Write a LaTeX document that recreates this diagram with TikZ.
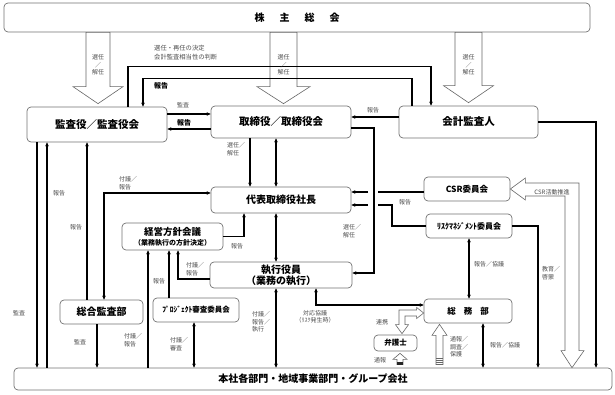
\documentclass[tikz,border=0pt]{standalone}
\usepackage{fontspec}
\setmainfont{Noto Sans CJK JP}
\usetikzlibrary{arrows.meta,calc}
\newcommand{\fatarrow}[5]{\draw[hollow]($(#1)+(-#3,0)$)--($(#1)+(#3,0)$)--($(#2)+(#3,#5)$)--($(#2)+(#4,#5)$)--(#2)--($(#2)+(-#4,#5)$)--($(#2)+(-#3,#5)$)--cycle;}

\begin{document}
\begin{tikzpicture}[x=1pt,y=-1pt,
  box/.style={rectangle,draw=black!55,fill=white,rounded corners=4pt,line width=0.7pt,align=center,inner sep=1pt,font=\fontsize{10}{12}\selectfont\bfseries},
  rel/.style={-{Stealth[length=4pt,width=3.6pt]},line width=1.1pt},
  drel/.style={{Stealth[length=4pt,width=3.6pt]}-{Stealth[length=4pt,width=3.6pt]},line width=1.1pt},
  hollow/.style={draw=black!60,fill=white,line width=0.6pt,line join=miter},
  lbl/.style={font=\fontsize{6}{7.5}\selectfont,text=black!70,inner sep=0pt,align=left},
  lblb/.style={font=\fontsize{7}{8}\selectfont\bfseries,inner sep=0pt}
]
\useasboundingbox(0,0)rectangle(615,395);
\node[box,minimum width=586,minimum height=29](soukai) at (297,17.5) {株\hspace{15pt}主\hspace{15pt}総\hspace{15pt}会};
\node[box,minimum width=140,minimum height=35,font=\fontsize{10.5}{12}\selectfont\bfseries](kansa) at (97,124.5) {監査役／監査役会};
\node[box,minimum width=140,minimum height=32,font=\fontsize{10.5}{12}\selectfont\bfseries](tori) at (281,122) {取締役／取締役会};
\node[box,minimum width=139,minimum height=32,font=\fontsize{10.5}{12}\selectfont\bfseries](kaikei) at (468.5,122) {会計監査人};
\node[box,minimum width=140,minimum height=26](daihyo) at (281,200) {代表取締役社長};
\node[box,minimum width=101,minimum height=27,font=\fontsize{9.5}{11}\selectfont\bfseries](keiei) at (172.5,236.5) {経営方針会議\\[-1pt]{\fontsize{7}{8}\selectfont （業務執行の方針決定）}};
\node[box,minimum width=142,minimum height=26](shikko) at (281,275) {執行役員\\[-1pt]（業務の執行）};
\node[box,minimum width=86,minimum height=24,font=\fontsize{8.5}{10}\selectfont\bfseries](csr) at (467,189) {CSR委員会};
\node[box,minimum width=86,minimum height=24,font=\fontsize{8}{10}\selectfont\bfseries](risk) at (469,226) {ﾘｽｸﾏﾈｼﾞﾒﾝﾄ委員会};
\node[box,minimum width=83,minimum height=24](sogo) at (101.5,312) {総合監査部};
\node[box,minimum width=86,minimum height=24,font=\fontsize{7.5}{9}\selectfont\bfseries](pj) at (196,310) {ﾌﾟﾛｼﾞｪｸﾄ審査委員会};
\node[box,minimum width=88,minimum height=24,font=\fontsize{8.5}{10}\selectfont\bfseries](somu) at (468,311) {総\hspace{8pt}務\hspace{8pt}部};
\node[box,minimum width=43,minimum height=16,font=\fontsize{7.5}{9}\selectfont\bfseries](bengo) at (395.5,343) {弁護士};
\node[box,minimum width=598,minimum height=22](honsha) at (313,379) {本社各部門・地域事業部門・グループ会社};

\coordinate(a1s) at (soukai.south -| 98,0);
\coordinate(a1e) at ($(kansa.north -| 98,0)+(0,-3)$);
\coordinate(a2s) at (soukai.south -| 283.5,0);
\coordinate(a2e) at ($(tori.north -| 283.5,0)+(0,-2)$);
\coordinate(a3s) at (soukai.south -| 468.5,0);
\coordinate(a3e) at ($(kaikei.north -| 468.5,0)+(0,-3)$);
\coordinate(a4s) at ($(honsha.north -| 439.5,0)+(0,-3)$);
\coordinate(a4e) at ($(somu.south -| 439.5,0)+(0,1)$);
\coordinate(a5s) at ($(honsha.north -| 400,0)+(0,-3)$);
\coordinate(a5e) at ($(bengo.south -| 400,0)+(0,2)$);
\fatarrow{a1s}{a1e}{12}{25}{-17}
\fatarrow{a2s}{a2e}{13.5}{26.5}{-17}
\fatarrow{a3s}{a3e}{13.5}{25}{-17}
\fatarrow{a4s}{a4e}{3.5}{7.5}{11}
\fatarrow{a5s}{a5e}{3}{7}{6}
\foreach \yy in {358,360,362,364}{\draw[black!60,line width=0.5pt](436,\yy)--(443,\yy);}
\fill[black!85](397,362)rectangle(403,365);

\coordinate(c1) at (csr.east |- 0,189);
\coordinate(c2) at (honsha.north -| 572,0);
\draw[hollow](c1)--++(15,-11)--++(0,5)-|($(c2)+(7,-17)$)--++(5,0)--(c2)--++(-11,-17)--++(4,0)|-($(c1)+(15,7)$)--++(0,4)--cycle;
\coordinate(d1) at (somu.west |- 0,313);
\coordinate(d2) at ($(bengo.north -| 402,0)+(0,-1)$);
\draw[hollow](d1)--++(-7,-5.5)--++(0,2.5)-|($(d2)+(-3,-9)$)--++(-3.5,0)--(d2)--++(6.5,-9)--++(-3.5,0)|-($(d1)+(-7,3)$)--++(0,2.5)--cycle;

\draw[rel](kansa.north -| 128,0)--++(0,-40)-|(kaikei.north -| 431,0);
\draw[rel](kaikei.north -| 412,0)--++(0,-27)-|(kansa.north -| 143,0);
\draw[rel](kansa.east |- 0,114)--(tori.west |- 0,114);
\draw[rel](tori.west |- 0,129)--(kansa.east |- 0,129);
\draw[rel](kaikei.west |- 0,117)--(tori.east |- 0,117);
\draw[rel](tori.south -| 250,0)--(daihyo.north -| 250,0);
\draw[drel](tori.south -| 276,0)--(daihyo.north -| 276,0);
\draw[rel](tori.east |- 0,128)--(374,128)|-(shikko.east |- 0,273);
\draw[rel](csr.west |- 0,192)--(378,192)(368,192)--(daihyo.east |- 0,192);
\draw[rel](risk.west)-|(392,205)--(378,205)(368,205)--(daihyo.east |- 0,205);
\draw[rel](kaikei.east)-|(honsha.north -| 596,0);
\draw[rel](risk.east)-|(honsha.north -| 538,0);
\draw[drel](risk.south -| 469,0)--(somu.north -| 469,0);
\draw[drel](somu.south -| 483,0)--(honsha.north -| 483,0);
\draw[drel](shikko.south -| 316,0)|-(somu.west |- 0,305);
\draw[drel](daihyo.south -| 276,0)--(shikko.north -| 276,0);
\draw[drel](shikko.south -| 276,0)--(honsha.north -| 276,0);
\draw[drel](pj.south -| 194,0)--(honsha.north -| 194,0);
\draw[rel](pj.north -| 169,0)--(keiei.south -| 169,0);
\draw[rel](shikko.west |- 0,279)-|(keiei.south -| 178,0);
\draw[rel](honsha.north -| 148,0)--(keiei.south -| 148,0);
\draw[rel](keiei.east)-|(daihyo.south -| 244,0);
\draw[drel](sogo.north -| 104,0)|-(daihyo.west |- 0,193);
\draw[rel](sogo.north -| 87,0)--(kansa.south -| 87,0);
\draw[rel](honsha.north -| 47,0)--(kansa.south -| 47,0);
\draw[rel](kansa.south -| 37,0)--(honsha.north -| 37,0);
\draw[rel](sogo.south -| 97,0)--(honsha.north -| 97,0);

\node[lbl,align=center](l1) at (98,65) {選任\\／\\解任};
\node[lbl,align=center](l2) at (283.5,65) {選任\\／\\解任};
\node[lbl,align=center](l3) at (468.5,65) {選任\\／\\解任};
\node[lbl,anchor=west,font=\fontsize{6.3}{9}\selectfont](l4) at (154,52.5) {選任・再任の決定\\会計監査相当性の判断};
\node[lblb](l5) at (161,86) {報告};
\node[lbl](l6) at (183,105) {監査};
\node[lblb](l7) at (184,123) {報告};
\node[lbl](l8) at (373,110) {報告};
\node[lbl,anchor=west](l9) at (227,149) {選任／\\解任};
\node[lbl,anchor=west](l10) at (119,183) {付議／\\報告};
\node[lbl](l11) at (59,193) {報告};
\node[lbl](l12) at (76,227) {報告};
\node[lbl](l13) at (237,246) {報告};
\node[lbl](l14) at (405,202) {報告};
\node[lbl,anchor=west](l15) at (343,231) {選任／\\解任};
\node[lbl](l16) at (552,192) {CSR活動推進};
\node[lbl,anchor=west](l17) at (186,269) {付議／\\報告};
\node[lbl](l18) at (159,281) {報告};
\node[lbl](l19) at (19,313) {監査};
\node[lbl](l20) at (80,342) {監査};
\node[lbl,anchor=west](l21) at (124,340) {付議／\\報告};
\node[lbl,anchor=west](l22) at (170,344) {付議／\\審査};
\node[lbl,anchor=west](l23) at (252,322) {付議／\\報告／\\執行};
\node[lbl,align=center](l24) at (315,317) {対応協議\\（ﾘｽｸ発生時）};
\node[lbl](l25) at (489,264) {報告／協議};
\node[lbl,anchor=west](l26) at (542,273) {教育／\\啓蒙};
\node[lbl](l27) at (382,322) {連携};
\node[lbl](l28) at (380,360) {通報};
\node[lbl,anchor=west](l29) at (450,347) {通報／\\調査／\\保護};
\node[lbl](l30) at (505,345) {報告／協議};
\end{tikzpicture}
\end{document}
